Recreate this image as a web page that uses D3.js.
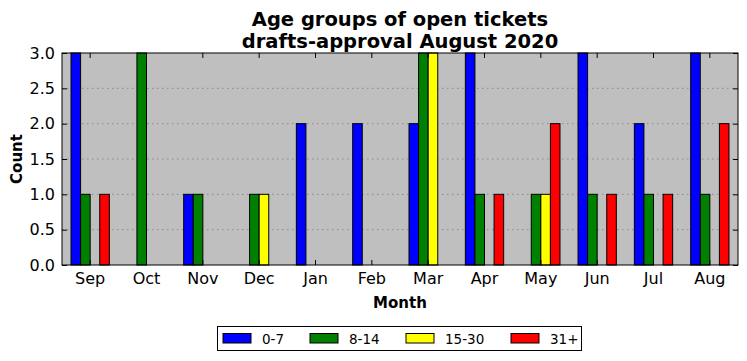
<!DOCTYPE html>
<html>
<head>
<meta charset="utf-8">
<script src="https://cdn.jsdelivr.net/npm/d3@7"></script>
<style>
  body { margin: 0; background: #fff; }
  text { font-family: "DejaVu Sans", sans-serif; }
</style>
</head>
<body>
<div id="chart"></div>
<script>
/* DATA */
const months = ["Sep", "Oct", "Nov", "Dec", "Jan", "Feb", "Mar", "Apr", "May", "Jun", "Jul", "Aug"];
const groups = ["0-7", "8-14", "15-30", "31+"];
const colors = ["#0000ff", "#008000", "#ffff00", "#ff0000"];
const age0to7 = [3, 0, 1, 0, 2, 2, 2, 3, 0, 3, 2, 3];
const age8to14 = [1, 3, 1, 1, 0, 0, 3, 1, 1, 1, 1, 1];
const age15to30 = [0, 0, 0, 1, 0, 0, 3, 0, 1, 0, 0, 0];
const age31plus = [1, 0, 0, 0, 0, 0, 0, 1, 2, 1, 1, 2];
const yTicks = [0, 0.5, 1, 1.5, 2, 2.5, 3];

const series = [age0to7, age8to14, age15to30, age31plus];

/* LAYOUT */
const width = 747, height = 361;
const margin = { top: 53, right: 9, bottom: 96, left: 62 };

const svg = d3.select("#chart").append("svg")
  .attr("width", width)
  .attr("height", height);

// scales
const xScale = d3.scaleBand()
  .domain(months)
  .range([margin.left, width - margin.right])
  .padding(0);

const inner = d3.scaleBand()
  .domain(groups)
  .range([0, xScale.bandwidth() * 0.68])
  .padding(0);

const yScale = d3.scaleLinear()
  .domain([0, 3])
  .range([height - margin.bottom, margin.top]);

// plot background
svg.append("rect")
  .attr("x", margin.left)
  .attr("y", margin.top)
  .attr("width", width - margin.left - margin.right)
  .attr("height", height - margin.top - margin.bottom)
  .attr("fill", "#bfbfbf");

// horizontal grid
svg.append("g")
  .selectAll("line")
  .data(yTicks.slice(1, -1))
  .join("line")
  .attr("x1", margin.left)
  .attr("x2", width - margin.right)
  .attr("y1", d => yScale(d))
  .attr("y2", d => yScale(d))
  .attr("stroke", "#8a8a8a")
  .attr("stroke-width", 1)
  .attr("stroke-dasharray", "1.5,3.5");

// bars
const barData = [];
months.forEach((m, i) => {
  groups.forEach((g, j) => {
    barData.push({ month: m, group: g, value: series[j][i], color: colors[j] });
  });
});

const groupOffset = (xScale.bandwidth() - inner.range()[1]) / 2;

svg.append("g")
  .selectAll("rect")
  .data(barData)
  .join("rect")
  .attr("x", d => xScale(d.month) + groupOffset + inner(d.group))
  .attr("y", d => yScale(d.value))
  .attr("width", inner.bandwidth())
  .attr("height", d => yScale(0) - yScale(d.value))
  .attr("fill", d => d.color)
  .attr("stroke", "#000")
  .attr("stroke-width", 1);

// frame
svg.append("rect")
  .attr("x", margin.left)
  .attr("y", margin.top)
  .attr("width", width - margin.left - margin.right)
  .attr("height", height - margin.top - margin.bottom)
  .attr("fill", "none")
  .attr("stroke", "#000")
  .attr("stroke-width", 1);

// axes (inward ticks, like matplotlib classic)
svg.append("g")
  .attr("transform", `translate(0, ${height - margin.bottom})`)
  .call(d3.axisBottom(xScale).tickSizeInner(-5).tickSizeOuter(0).tickPadding(8));

svg.append("g")
  .attr("transform", `translate(0, ${margin.top})`)
  .call(d3.axisTop(xScale).tickSizeInner(-5).tickSizeOuter(0).tickFormat(""));

svg.append("g")
  .attr("transform", `translate(${margin.left}, 0)`)
  .call(d3.axisLeft(yScale).tickValues(yTicks).tickFormat(d3.format(".1f")).tickSizeInner(-5).tickSizeOuter(0).tickPadding(7));

svg.append("g")
  .attr("transform", `translate(${width - margin.right}, 0)`)
  .call(d3.axisRight(yScale).tickValues(yTicks).tickSizeInner(-5).tickSizeOuter(0).tickFormat(""));

svg.selectAll(".domain").remove();
svg.selectAll(".tick line").attr("stroke", "#000");
svg.selectAll(".tick text")
  .style("font-family", "'DejaVu Sans', sans-serif")
  .style("font-size", "16px")
  .attr("fill", "#000");

// title
svg.append("text")
  .attr("x", 400)
  .attr("y", 26)
  .attr("text-anchor", "middle")
  .style("font-size", "19.5px")
  .style("font-weight", "bold")
  .text("Age groups of open tickets");

svg.append("text")
  .attr("x", 400)
  .attr("y", 48)
  .attr("text-anchor", "middle")
  .style("font-size", "19.5px")
  .style("font-weight", "bold")
  .text("drafts-approval August 2020");

// axis labels
svg.append("text")
  .attr("x", 400)
  .attr("y", 308)
  .attr("text-anchor", "middle")
  .style("font-size", "15px")
  .style("font-weight", "bold")
  .text("Month");

svg.append("text")
  .attr("transform", `translate(22, ${(margin.top + height - margin.bottom) / 2}) rotate(-90)`)
  .attr("text-anchor", "middle")
  .style("font-size", "15px")
  .style("font-weight", "bold")
  .text("Count");

// legend
const legend = svg.append("g");
legend.append("rect")
  .attr("x", 217.5)
  .attr("y", 326.5)
  .attr("width", 364)
  .attr("height", 24)
  .attr("fill", "#fff")
  .attr("stroke", "#000");

const legendX = [223, 310, 406, 511];
const items = legend.selectAll("g.item")
  .data(groups)
  .join("g")
  .attr("class", "item")
  .attr("transform", (d, i) => `translate(${legendX[i]}, 333.5)`);

items.append("rect")
  .attr("width", 28)
  .attr("height", 9.5)
  .attr("fill", (d, i) => colors[i])
  .attr("stroke", "#000");

items.append("text")
  .attr("x", 39)
  .attr("y", 10)
  .style("font-size", "13.5px")
  .text(d => d);
</script>
</body>
</html>
